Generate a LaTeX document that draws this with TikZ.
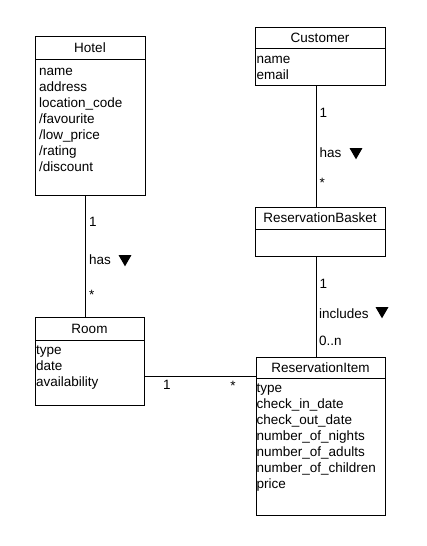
\documentclass[tikz,border=0pt]{standalone}
\usepackage{fontspec}
\setmainfont{Liberation Sans}
\usetikzlibrary{positioning, shapes.geometric}

\begin{document}
\begin{tikzpicture}[
  x=1pt, y=-1pt,
  every node/.style={font=\fontsize{13.5}{16}\selectfont},
  classhead/.style={
    rectangle, draw, line width=1pt, outer sep=0pt, inner sep=0pt,
    minimum height=23pt, align=center
  },
  classbody/.style={
    rectangle, draw, line width=1pt, outer sep=0pt, inner sep=0pt
  },
  attrs/.style={anchor=north west, inner sep=0pt, align=left},
  assoc/.style={line width=1pt},
  mult/.style={anchor=base west, inner sep=0pt},
  dirmark/.style={
    regular polygon, regular polygon sides=3, shape border rotate=180,
    fill=black, inner sep=0pt, minimum size=15pt
  }
]
\useasboundingbox (0,0) rectangle (427,546);

% ---- Hotel (top left) ----
\node[classhead, minimum width=110pt] (hotel-head) at (90, 47.5) {Hotel};
\node[classbody, minimum width=110pt, minimum height=136pt,
  below=0pt of hotel-head] (hotel-body) {};
\node[attrs, below right=4.8pt and 4pt of hotel-body.north west] (hotel-attrs)
  {\strut name\\address\\location\_code\\/favourite\\/low\_price\\/rating\\/discount};

% ---- Customer (top right) ----
\node[classhead, minimum width=130pt, minimum height=21pt] (customer-head)
  at (320, 37.5) {Customer};
\node[classbody, minimum width=130pt, minimum height=37pt,
  below=0pt of customer-head] (customer-body) {};
\node[attrs, below right=3.8pt and 1.5pt of customer-body.north west]
  (customer-attrs) {\strut name\\email};

% ---- ReservationBasket ----
\node[classhead, minimum width=130pt, minimum height=22pt] (basket-head)
  at (320, 218) {ReservationBasket};
\node[classbody, minimum width=130pt, minimum height=27pt,
  below=0pt of basket-head] (basket-body) {};

% ---- Room (bottom left) ----
\node[classhead, minimum width=109pt] (room-head) at (89.5, 328.5) {Room};
\node[classbody, minimum width=109pt, minimum height=65pt,
  below=0pt of room-head] (room-body) {};
\node[attrs, below right=2.8pt and 1pt of room-body.north west] (room-attrs)
  {\strut type\\date\\availability};

% ---- ReservationItem (bottom right) ----
\node[classhead, minimum width=129pt, minimum height=21pt] (item-head)
  at (320.5, 367.5) {ReservationItem};
\node[classbody, minimum width=129pt, minimum height=137pt,
  below=0pt of item-head] (item-body) {};
\node[attrs, below right=2.8pt and 0.5pt of item-body.north west] (item-attrs)
  {\strut type\\check\_in\_date\\check\_out\_date\\number\_of\_nights\\
   number\_of\_adults\\number\_of\_children\\price};

% ---- Hotel has Room ----
\draw[assoc] ([xshift=-5pt]hotel-body.south)
  -- ([xshift=-5pt]hotel-body.south |- room-head.north);
\node[mult] (hotel-one) at (89, 226) {1};
\node[mult] (hotel-has) at (89, 264) {has};
\node[dirmark] (hotel-dir) at (125, 258.8) {};
\node[mult] (room-many) at (89, 299) {*};

% ---- Customer has ReservationBasket ----
\draw[assoc] ([xshift=-4pt]customer-body.south)
  -- ([xshift=-4pt]customer-body.south |- basket-head.north);
\node[mult] (customer-one) at (319.5, 117) {1};
\node[mult] (customer-has) at (319.5, 157) {has};
\node[dirmark] (customer-dir) at (356, 151.8) {};
\node[mult] (basket-many) at (319.5, 187.5) {*};

% ---- ReservationBasket includes ReservationItem ----
\draw[assoc] ([xshift=-4pt]basket-body.south)
  -- ([xshift=-4pt]basket-body.south |- item-head.north);
\node[mult] (basket-one) at (319.5, 288) {1};
\node[mult] (basket-includes) at (319, 318) {includes};
\node[dirmark] (basket-dir) at (382, 310.8) {};
\node[mult] (item-many) at (319, 345) {0..n};

% ---- Room to ReservationItem ----
\draw[assoc] ([yshift=-3.5pt]room-body.east)
  -- ([yshift=-3.5pt]room-body.east -| item-head.west);
\node[mult, anchor=base] (room-one) at (167, 389.5) {1};
\node[mult, anchor=base] (item-star) at (233, 390) {*};

\end{tikzpicture}
\end{document}
